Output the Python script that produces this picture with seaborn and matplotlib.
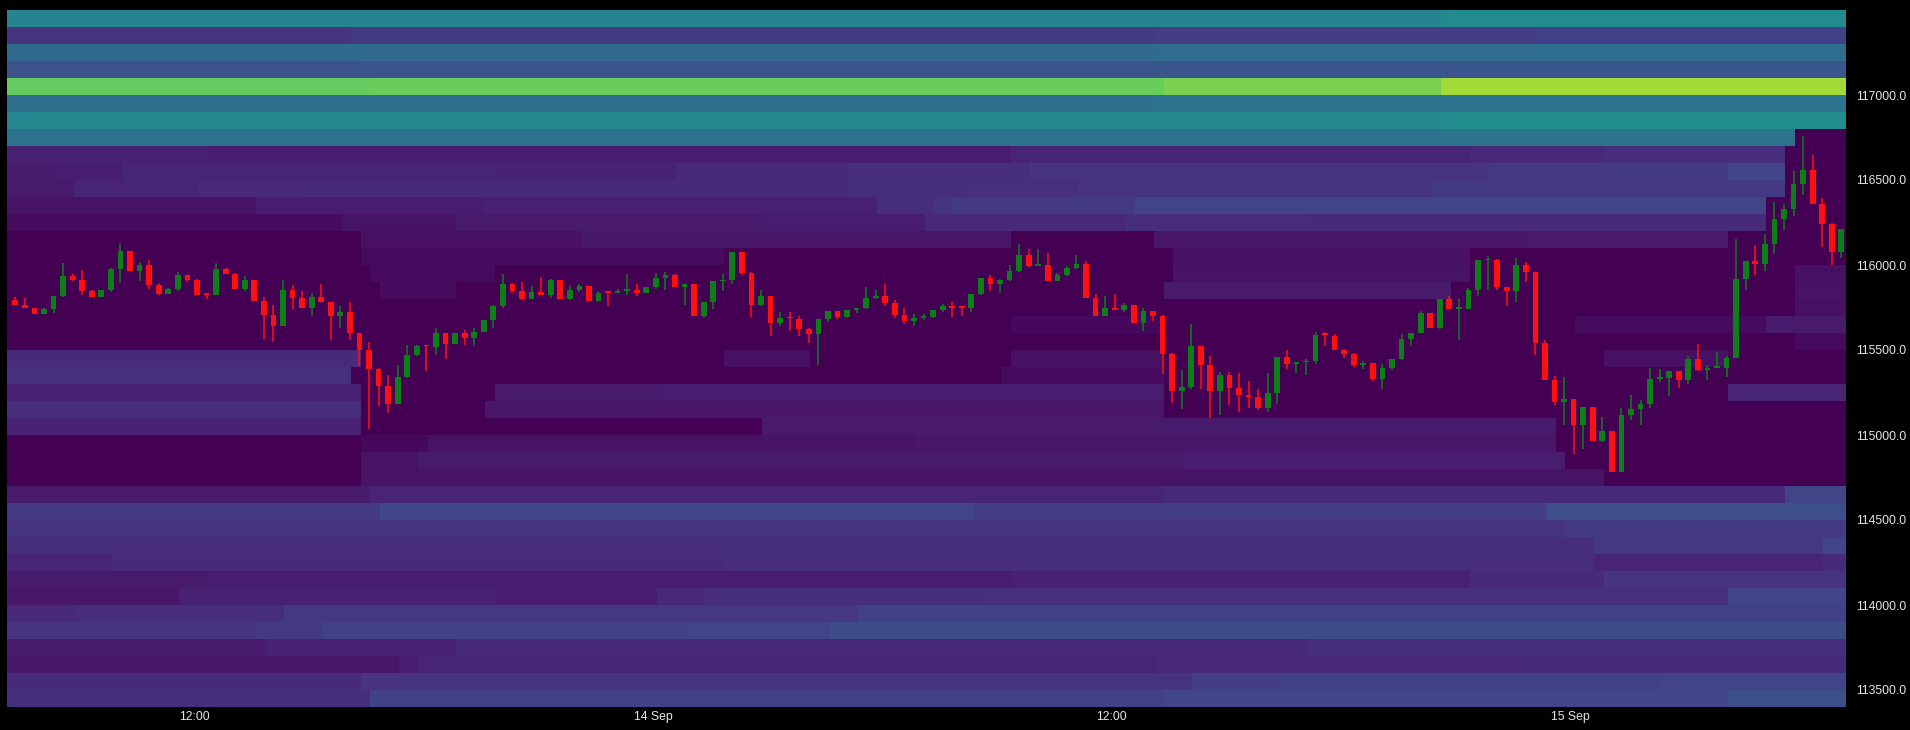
import numpy as np
import pandas as pd
import matplotlib
matplotlib.use("Agg")
import matplotlib.pyplot as plt
import seaborn as sns

# --- liquidation heat map: price bins of 100, top row first ---
bin_top = 117500
bin_step = 100
n_cols = 193  # 15 min columns

# each row: (start column, intensity) segments
heat_rows = [
    [(0, .45), (150, .48)],                                   # 117400-117500
    [(0, .15), (36, .165), (120, .18), (160, .19)],
    [(0, .34), (120, .35), (160, .36)],
    [(0, .25), (37, .26)],
    [(0, .76), (38, .77), (121, .80), (150, .86)],            # 117000-117100
    [(0, .36), (120, .38)],
    [(0, .46), (150, .49)],
    [(0, .38), (187, 0)],
    [(0, .09), (21, .08), (105, .10), (153, .11), (167, .13), (186, 0)],
    [(0, .07), (5, .08), (12, .10), (51, .095), (70, .11), (88, .13), (107, .15), (155, .17), (180, .21), (186, 0)],
    [(0, .07), (7, .10), (20, .11), (31, .12), (88, .13), (100, .14), (112, .15), (149, .17), (186, 0)],
    [(0, .05), (26, .08), (50, .09), (91, .13), (97, .15), (99, .17), (118, .20), (147, .21), (184, 0)],
    [(0, .03), (35, .05), (47, .07), (79, .08), (96, .11), (117, .13), (136, .12), (184, 0)],
    [(0, 0), (37, .04), (60, .06), (105, 0), (120, .06), (159, .07), (180, 0)],   # 116100-116200
    [(0, 0), (37, .03), (75, 0), (122, .04), (153, 0)],
    [(0, 0), (38, .03), (51, 0), (122, .05), (153, 0), (187, .04)],
    [(0, 0), (39, .03), (47, 0), (121, .07), (151, 0), (187, .05)],
    [(0, 0), (187, .04)],
    [(0, 0), (105, .02), (121, 0), (164, .03), (184, .07)],
    [(0, 0), (187, .03)],                                      # 115500-115600
    [(0, .12), (37, 0), (75, .04), (84, 0), (105, .04), (121, 0), (167, .04), (180, 0)],
    [(0, .14), (36, 0), (104, .03), (121, 0)],
    [(0, .09), (37, 0), (51, .07), (68, .08), (121, 0), (180, .10)],
    [(0, .13), (37, 0), (50, .06), (121, 0)],
    [(0, .09), (37, 0), (79, .07), (162, 0)],                  # 115000-115100
    [(0, 0), (37, .02), (44, .05), (95, .06), (162, 0)],
    [(0, 0), (37, .05), (43, .07), (123, .08), (163, 0)],
    [(0, 0), (37, .05), (167, 0)],
    [(0, .07), (38, .10), (121, .12), (186, .20)],
    [(0, .17), (39, .21), (101, .18), (161, .24)],             # 114500-114600
    [(0, .15), (163, .17)],
    [(0, .13), (166, .16), (190, .20)],
    [(0, .10), (11, .12), (75, .13), (166, .10), (190, .12)],
    [(0, .07), (21, .08), (105, .09), (153, .12), (167, .15)],
    [(0, .06), (18, .09), (51, .08), (68, .11), (73, .13), (102, .14), (180, .20)],  # 114000-114100
    [(0, .11), (7, .13), (29, .16), (89, .19)],
    [(0, .15), (26, .17), (33, .19), (71, .20), (86, .23)],
    [(0, .07), (27, .09), (47, .11), (136, .13)],
    [(0, .06), (41, .08), (43, .10), (120, .11), (159, .12)],
    [(0, .12), (37, .15), (124, .18), (133, .19), (173, .20)],
    [(0, .13), (38, .19), (121, .21), (180, .24)],             # 113400-113500
]

# --- 15 minute candles ---
candle_start = pd.Timestamp("2025-09-13 07:15")
first_open = 115793
closes = [
    115766, 115747, 115713, 115741, 115817, 115934, 115911, 115848, 115813, 115852,
    115975, 116080, 115965, 115998, 115883, 115829, 115858, 115940, 115911, 115825,
    115821, 115979, 115946, 115858, 115911, 115790, 115706, 115643, 115852, 115805,
    115745, 115809, 115780, 115702, 115721, 115598, 115502, 115389, 115286, 115180,
    115340, 115471, 115522, 115520, 115600, 115536, 115598, 115571, 115608, 115676,
    115756, 115887, 115848, 115799, 115842, 115825, 115911, 115799, 115852, 115877,
    115790, 115838, 115833, 115848, 115852, 115836, 115868, 115926, 115940, 115872,
    115887, 115702, 115780, 115903, 115911, 116077, 115952, 115764, 115815, 115659,
    115686, 115680, 115624, 115596, 115682, 115727, 115696, 115735, 115747, 115805,
    115815, 115776, 115706, 115672, 115688, 115696, 115735, 115760, 115750, 115746,
    115828, 115926, 115887, 115910, 115965, 116057, 115994, 115998, 115907, 115940,
    115981, 116004, 115805, 115701, 115750, 115735, 115764, 115659, 115731, 115701,
    115477, 115256, 115282, 115526, 115414, 115256, 115354, 115278, 115237, 115223,
    115158, 115248, 115457, 115418, 115428, 115438, 115588, 115580, 115502, 115477,
    115414, 115424, 115330, 115393, 115448, 115565, 115598, 115715, 115629, 115799,
    115741, 115741, 115852, 116028, 116028, 115868, 115848, 116000, 115959, 115541,
    115325, 115194, 115213, 115061, 115164, 114965, 115024, 114780, 115120, 115155,
    115184, 115330, 115334, 115375, 115325, 115448, 115385, 115393, 115393, 115452,
    115916, 116024, 116004, 116121, 116268, 116327, 116477, 116561, 116356, 116244,
    116077, 116209,
]
highs = [
    115809, 115805, 115750, 115750, 115817, 116010, 115946, 115971, 115852, 115852,
    115985, 116127, 116084, 116018, 116028, 115897, 115862, 115956, 115940, 115917,
    115827, 116014, 115981, 115952, 115936, 115911, 115809, 115764, 115911, 115881,
    115848, 115834, 115887, 115784, 115756, 115784, 115600, 115549, 115393, 115354,
    115409, 115530, 115530, 115526, 115627, 115600, 115598, 115618, 115627, 115676,
    115764, 115950, 115893, 115901, 115877, 115930, 115920, 115911, 115881, 115887,
    115877, 115848, 115842, 115858, 115946, 115887, 115868, 115952, 115961, 115950,
    115891, 115887, 115784, 115903, 115950, 116077, 116077, 115956, 115854, 115819,
    115721, 115721, 115702, 115627, 115682, 115727, 115725, 115735, 115747, 115868,
    115854, 115887, 115793, 115750, 115711, 115711, 115735, 115770, 115780, 115756,
    115828, 115926, 115940, 115920, 115998, 116121, 116096, 116092, 116069, 115951,
    115994, 116057, 116024, 115832, 115819, 115828, 115774, 115764, 115750, 115731,
    115705, 115483, 115385, 115653, 115526, 115467, 115373, 115373, 115366, 115315,
    115268, 115366, 115457, 115502, 115428, 115448, 115604, 115608, 115594, 115506,
    115483, 115434, 115424, 115418, 115448, 115594, 115598, 115727, 115715, 115799,
    115815, 115799, 115862, 116028, 116053, 116038, 115868, 116039, 116018, 115961,
    115561, 115346, 115340, 115213, 115164, 115164, 115106, 115024, 115159, 115237,
    115204, 115393, 115389, 115375, 115379, 115463, 115536, 115412, 115487, 115463,
    116151, 116024, 116118, 116184, 116369, 116356, 116551, 116760, 116649, 116395,
    116248, 116209,
]
lows = [
    115766, 115747, 115713, 115709, 115719, 115813, 115907, 115823, 115813, 115813,
    115842, 115897, 115965, 115907, 115858, 115825, 115829, 115850, 115901, 115825,
    115799, 115821, 115946, 115858, 115848, 115790, 115565, 115549, 115639, 115741,
    115745, 115702, 115780, 115561, 115627, 115561, 115403, 115034, 115168, 115131,
    115180, 115336, 115463, 115379, 115471, 115448, 115536, 115530, 115526, 115604,
    115627, 115745, 115834, 115795, 115799, 115825, 115803, 115799, 115793, 115842,
    115790, 115780, 115756, 115834, 115825, 115819, 115838, 115858, 115852, 115872,
    115764, 115702, 115686, 115741, 115848, 115891, 115942, 115696, 115756, 115584,
    115643, 115614, 115584, 115541, 115409, 115663, 115682, 115686, 115717, 115741,
    115799, 115760, 115690, 115653, 115639, 115676, 115686, 115721, 115696, 115698,
    115721, 115825, 115848, 115838, 115907, 115959, 115989, 115994, 115907, 115907,
    115936, 115975, 115805, 115701, 115701, 115735, 115725, 115659, 115614, 115672,
    115360, 115190, 115155, 115268, 115268, 115100, 115119, 115174, 115135, 115158,
    115145, 115135, 115184, 115389, 115366, 115354, 115418, 115522, 115502, 115451,
    115399, 115389, 115315, 115272, 115385, 115444, 115526, 115598, 115629, 115623,
    115741, 115561, 115741, 115819, 115852, 115852, 115756, 115780, 115901, 115471,
    115321, 115178, 115061, 114891, 114917, 114965, 114959, 114780, 114780, 115086,
    115057, 115159, 115311, 115229, 115276, 115301, 115379, 115325, 115393, 115340,
    115452, 115854, 115942, 115965, 116067, 116205, 116291, 116409, 116356, 116108,
    116000, 116043,
]

price_ticks = [117000, 116500, 116000, 115500, 115000, 114500, 114000, 113500]
time_ticks = ["2025-09-13 12:00", "2025-09-14 00:00", "2025-09-14 12:00", "2025-09-15 00:00"]
time_labels = ["12:00", "14 Sep", "12:00", "15 Sep"]

# --- build grid ---
grid = np.zeros((len(heat_rows), n_cols))
for r, segs in enumerate(heat_rows):
    for k, (start, val) in enumerate(segs):
        end = segs[k + 1][0] if k + 1 < len(segs) else n_cols
        grid[r, start:end] = val

opens = np.array([first_open] + closes[:-1], dtype=float)
closes = np.array(closes, dtype=float)
highs = np.array(highs, dtype=float)
lows = np.array(lows, dtype=float)


def to_row(p):
    return (bin_top - np.asarray(p, dtype=float)) / bin_step


candle_offset = 0.87  # first candle sits a little right of the heat map edge
xs = np.arange(len(closes)) + candle_offset

plt.rcParams['font.family'] = ['Liberation Sans', 'DejaVu Sans']
fig = plt.figure(figsize=(19.1, 7.3), dpi=100, facecolor='black')
ax = fig.add_axes([7 / 1910, 1 - 707 / 730, (1846 - 7) / 1910, (707 - 10) / 730])
ax.set_facecolor('black')

sns.heatmap(grid, ax=ax, cmap='viridis', vmin=0, vmax=1, cbar=False,
            xticklabels=False, yticklabels=False)

up = closes >= opens
colors = np.where(up, '#0c7f18', '#ff1010')
ax.vlines(xs, to_row(highs), to_row(lows), colors=colors, linewidth=1.1, zorder=3)
body_bot = to_row(opens)
body_h = to_row(closes) - body_bot
body_h = np.where(np.abs(body_h) < 0.1, -0.1, body_h)
ax.bar(xs, body_h, bottom=body_bot, width=0.6, color=colors, linewidth=0, zorder=4)

ax.set_xlim(0, 192.36)
ax.set_ylim(len(heat_rows), 0)

# ticks
tick_pos = [(pd.Timestamp(t) - candle_start) / pd.Timedelta(minutes=15) + candle_offset - 0.3
            for t in time_ticks]
ax.set_xticks(tick_pos)
ax.set_xticklabels(time_labels, rotation=0)
ax.set_yticks(to_row(price_ticks))
ax.set_yticklabels([f"{p:.1f}" for p in price_ticks])
ax.yaxis.tick_right()
ax.tick_params(axis='both', length=0, colors='#e6e6e6', labelsize=8.8)
ax.tick_params(axis='x', pad=3)
ax.tick_params(axis='y', pad=7)
for s in ax.spines.values():
    s.set_visible(False)

fig.savefig('out.png', dpi=100, facecolor='black')
